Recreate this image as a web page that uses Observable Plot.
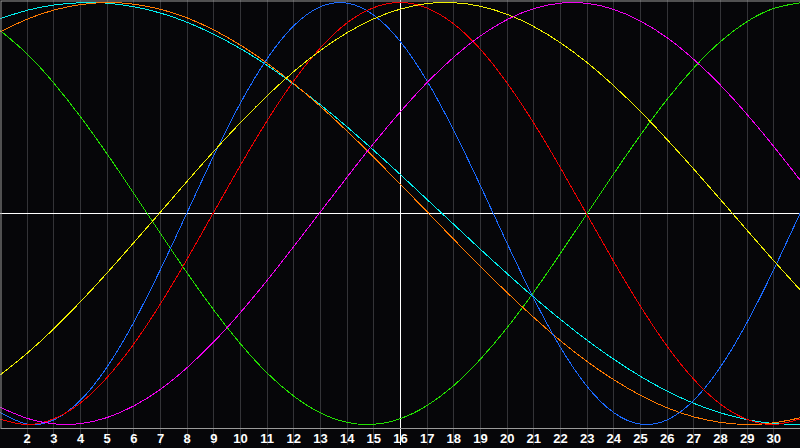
<!DOCTYPE html>
<html>
<head>
<meta charset="utf-8">
<script src="https://cdn.jsdelivr.net/npm/d3@7"></script>
<script src="https://cdn.jsdelivr.net/npm/@observablehq/plot@0.6"></script>
<style>
  html, body { margin: 0; padding: 0; background: #060609; }
  #chart svg { display: block; background: #060609; }
</style>
</head>
<body>
<div id="chart"></div>
<script>
const days = d3.range(1, 32);
const tickDays = d3.range(2, 31);
const today = 16;

const intellectual = [0.866,0.756,0.618,0.458,0.282,0.095,-0.095,-0.282,-0.458,-0.618,-0.756,-0.866,-0.945,-0.990,-0.999,-0.972,-0.910,-0.815,-0.690,-0.541,-0.372,-0.189,0.000,0.189,0.372,0.541,0.690,0.815,0.910,0.972,0.999];
const spiritual    = [0.924,0.963,0.988,0.999,0.997,0.980,0.950,0.906,0.849,0.781,0.702,0.612,0.515,0.410,0.299,0.184,0.066,-0.052,-0.170,-0.285,-0.397,-0.502,-0.601,-0.691,-0.772,-0.842,-0.900,-0.945,-0.977,-0.995,-1.000];
const awareness    = [0.862,0.921,0.964,0.990,1.000,0.992,0.968,0.927,0.870,0.798,0.712,0.615,0.507,0.390,0.266,0.138,0.008,-0.123,-0.251,-0.375,-0.493,-0.603,-0.702,-0.788,-0.862,-0.921,-0.964,-0.990,-1.000,-0.992,-0.968];
const physical     = [-0.944,-0.998,-0.978,-0.885,-0.727,-0.515,-0.265,0.005,0.275,0.524,0.734,0.890,0.980,0.997,0.940,0.814,0.627,0.393,0.131,-0.142,-0.403,-0.635,-0.820,-0.944,-0.998,-0.978,-0.885,-0.727,-0.515,-0.265,0.005];
const emotional    = [-0.976,-1.000,-0.973,-0.898,-0.777,-0.618,-0.428,-0.216,0.007,0.229,0.440,0.629,0.786,0.904,0.976,1.000,0.973,0.898,0.778,0.618,0.428,0.216,-0.007,-0.229,-0.440,-0.629,-0.786,-0.904,-0.976,-1.000,-0.973];
const aesthetic    = [-0.764,-0.662,-0.546,-0.418,-0.281,-0.138,0.007,0.153,0.295,0.431,0.558,0.673,0.773,0.857,0.923,0.969,0.995,0.999,0.982,0.944,0.886,0.809,0.715,0.605,0.483,0.350,0.210,0.066,-0.080,-0.224,-0.364];
const intuitive    = [-0.919,-0.971,-0.997,-0.996,-0.967,-0.912,-0.833,-0.730,-0.608,-0.469,-0.317,-0.156,0.008,0.173,0.333,0.483,0.621,0.741,0.842,0.919,0.971,0.997,0.996,0.967,0.912,0.833,0.730,0.608,0.469,0.317,0.156];

const seriesNames  = ["intellectual","spiritual","awareness","physical","emotional","aesthetic","intuitive"];
const seriesValues = [intellectual, spiritual, awareness, physical, emotional, aesthetic, intuitive];
const seriesColors = ["#22e000","#00f0f0","#ff7a00","#1a6aff","#f00000","#f0f000","#f000f0"];

const rows = [];
seriesNames.forEach((name, i) => {
  seriesValues[i].forEach((v, j) => rows.push({series: name, day: days[j], value: v}));
});

const chart = Plot.plot({
  width: 800,
  height: 448,
  marginTop: 0,
  marginLeft: 0,
  marginRight: 0,
  marginBottom: 20,
  style: {background: "#060609", color: "white"},
  x: {domain: [1, 31], range: [0, 800], axis: null},
  y: {domain: [-1, 1], range: [424, 2], axis: null},
  color: {type: "ordinal", domain: seriesNames, range: seriesColors},
  marks: [
    Plot.ruleX(tickDays, {stroke: "#333337", strokeWidth: 1, y1: -1.1, y2: 1.1, shapeRendering: "crispEdges"}),
    Plot.ruleY([0], {stroke: "#ffffff", strokeWidth: 1.2, shapeRendering: "crispEdges"}),
    Plot.ruleX([today], {stroke: "#ffffff", strokeWidth: 1.2, y1: -1.1, y2: 1.1, shapeRendering: "crispEdges"}),
    Plot.line(rows, {x: "day", y: "value", z: "series", stroke: "series", strokeWidth: 1, curve: "natural", clip: true, shapeRendering: "crispEdges"}),
    Plot.frame({stroke: "#9a9a9a", insetTop: 0.5, insetLeft: 0.5, insetBottom: 0, insetRight: -3}),
    Plot.axisX(tickDays, {tickSize: 0, tickPadding: 5, fontSize: 13, fontWeight: "bold", fill: "white", fontFamily: "Liberation Sans, Arial, sans-serif", label: null})
  ]
});
document.getElementById("chart").append(chart);
</script>
</body>
</html>
